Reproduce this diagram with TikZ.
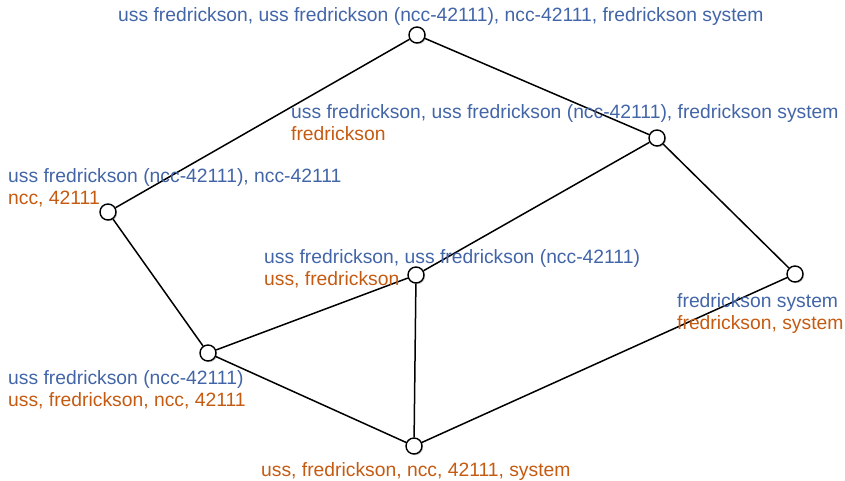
\documentclass[tikz,border=0pt]{standalone}
\usepackage{fontspec}
\setmainfont{Liberation Sans}
\usepackage{xcolor}
\usepackage{tikz}
\usetikzlibrary{positioning,shadows}
\definecolor{extblue}{RGB}{66,101,168}
\definecolor{intorange}{RGB}{197,90,17}
\tikzset{
    concept/.style={
        circle,
        draw=black, line width=1.4pt,
        fill=white,
        minimum size=16pt,
        inner sep=0pt,
        drop shadow={shadow xshift=1.2pt, shadow yshift=-1.2pt, fill=black!40, opacity=0.5}
    },
    ext/.style={text=extblue, anchor=base west, inner sep=0pt},
    int/.style={text=intorange, anchor=base west, inner sep=0pt},
    line/.style={draw, line width=1.5pt},
    font={\fontsize{19.3pt}{22}\selectfont},
}
\begin{document}
\begin{tikzpicture}[x=1pt, y=-1pt]
    \useasboundingbox (0,0) rectangle (845,480);
    % concepts of the lattice
    \node[concept] (top)  at (417,35)  {};
    \node[concept] (fsys) at (657,138) {};
    \node[concept] (ncc)  at (108,212) {};
    \node[concept] (uss)  at (416,275) {};
    \node[concept] (sys)  at (795,274) {};
    \node[concept] (full) at (208,353) {};
    \node[concept] (bot)  at (414,446) {};
    % edges
    \path[line] (top) -- (fsys);
    \path[line] (top) -- (ncc);
    \path[line] (fsys) -- (uss);
    \path[line] (fsys) -- (sys);
    \path[line] (ncc) -- (full);
    \path[line] (uss) -- (full);
    \path[line] (uss) -- (bot);
    \path[line] (full) -- (bot);
    \path[line] (sys) -- (bot);
    % labels: extent (blue), intent (orange)
    \node[ext] (topext)  at (118,21)  {uss fredrickson, uss fredrickson (ncc-42111), ncc-42111, fredrickson system};
    \node[ext] (fsysext) at (291,118) {uss fredrickson, uss fredrickson (ncc-42111), fredrickson system};
    \node[int] (fsysint) at (291,140) {fredrickson};
    \node[ext] (nccext)  at (8,182)   {uss fredrickson (ncc-42111), ncc-42111};
    \node[int] (nccint)  at (8,204)   {ncc, 42111};
    \node[ext] (ussext)  at (264,263) {uss fredrickson, uss fredrickson (ncc-42111)};
    \node[int] (ussint)  at (264,285) {uss, fredrickson};
    \node[ext] (sysext)  at (677,307) {fredrickson system};
    \node[int] (sysint)  at (677,329) {fredrickson, system};
    \node[ext] (fullext) at (8,384)   {uss fredrickson (ncc-42111)};
    \node[int] (fullint) at (8,406)   {uss, fredrickson, ncc, 42111};
    \node[int] (botint)  at (261,476) {uss, fredrickson, ncc, 42111, system};
\end{tikzpicture}
\end{document}
